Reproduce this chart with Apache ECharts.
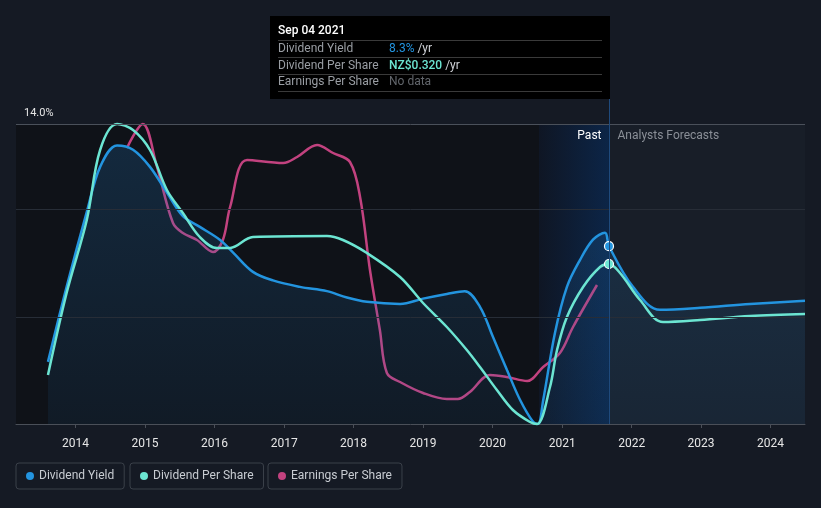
<!DOCTYPE html>
<html><head><meta charset="utf-8">
<script src="https://cdn.jsdelivr.net/npm/echarts@6/dist/echarts.min.js"></script>
<style>html,body{margin:0;padding:0;background:#151a24;}#c{width:821px;height:508px;}</style>
</head><body><div id="c"></div>
<script>
// ---- Data ----
const yieldDates = ['2013-08-09','2013-11-15','2014-03-01','2014-05-10','2014-08-07','2014-10-30','2015-01-27','2015-04-26','2015-07-19','2015-10-16','2016-01-29','2016-04-08','2016-07-21','2016-11-03','2017-03-25','2017-08-14','2017-11-27','2018-03-12','2018-09-02','2019-01-01','2019-05-06','2019-08-08','2019-10-27','2020-01-03','2020-03-17','2020-05-25','2020-08-01','2020-08-27','2020-09-23','2020-11-24','2021-01-26','2021-04-05','2021-06-12','2021-08-14','2021-09-04','2022-01-08','2022-05-30','2022-12-27','2023-09-15','2024-06-30'];
const yieldValues = [2.9,6.4,9.9,12.0,13.0,12.8,12.0,10.8,9.7,9.2,8.6,8.0,7.1,6.7,6.4,6.2,5.9,5.7,5.6,5.85,6.07,6.2,5.47,4.07,2.52,1.12,0.1,0.0,1.1,4.25,6.4,7.66,8.6,8.93,8.3,6.4,5.33,5.42,5.6,5.75];

const dpsDates = ['2013-08-09','2013-11-15','2014-03-01','2014-05-10','2014-08-07','2014-10-30','2015-01-27','2015-04-26','2015-07-19','2015-10-16','2016-01-14','2016-03-23','2016-07-21','2017-08-14','2017-11-06','2018-03-12','2018-09-02','2019-01-01','2019-05-06','2019-08-19','2019-10-27','2020-01-24','2020-04-17','2020-07-16','2020-08-22','2020-10-29','2020-12-05','2021-01-26','2021-04-21','2021-07-19','2021-09-04','2021-11-01','2022-02-14','2022-06-15','2022-12-27','2023-09-15','2024-06-30'];
const dpsValues = [0.098,0.262,0.408,0.548,0.600,0.588,0.548,0.468,0.422,0.374,0.352,0.352,0.374,0.376,0.368,0.342,0.294,0.242,0.194,0.148,0.114,0.068,0.028,0.004,0.0,0.074,0.148,0.214,0.274,0.314,0.320,0.302,0.248,0.204,0.208,0.216,0.220];

const epsDates = ['2014-09-28','2014-12-20','2015-03-05','2015-05-28','2015-07-19','2015-10-01','2015-12-24','2016-02-14','2016-03-23','2016-06-20','2016-12-27','2017-03-10','2017-06-23','2017-09-15','2017-12-13','2018-02-04','2018-03-28','2018-05-19','2018-06-25','2018-09-02','2019-01-01','2019-05-06','2019-07-03','2019-09-04','2019-12-18','2020-03-17','2020-07-01','2020-09-23','2020-12-20','2021-02-27','2021-07-03'];
const epsValues = [0.276,0.300,0.257,0.201,0.191,0.184,0.172,0.184,0.217,0.264,0.261,0.267,0.279,0.271,0.262,0.227,0.154,0.094,0.051,0.042,0.031,0.025,0.025,0.032,0.049,0.047,0.043,0.057,0.071,0.097,0.139];

const yTickLabels = {0: '0%', 14: '14.0%'};
const yGridValues = [5, 10];
const yTopValue = 14;
const tipDate = '2021-09-04';
const tipYield = 8.3;
const tipDps = 0.320;
const pastStart = '2020-09-01';
const axisMin = '2013-02-22';
const axisMax = '2024-06-30';

// ---- Chart ----
const P = s => echarts.number.parseDate(s).getTime();
const BLUE = '#2394df', CYAN = '#6ce5d2', MAG = '#c2427f';
const chart = echarts.init(document.getElementById('c'), null, {renderer: 'canvas'});
const FONT = 'Roboto, "Noto Sans", sans-serif';
const YEAR = 365.25 * 864e5;
const SMOOTH = 0.35;

const legendBase = {
  top: 463, orient: 'horizontal', icon: 'circle', itemWidth: 8, itemHeight: 8,
  padding: [7, 10, 7, 10], borderColor: '#3a4049', borderWidth: 1, borderRadius: 3,
  selectedMode: false, itemGap: 8,
  textStyle: {color: '#c8ccd2', fontSize: 12, fontFamily: FONT}
};

const option = {
  backgroundColor: '#151a24',
  animation: false,
  grid: {left: 16, right: 16, top: 124, bottom: 84, containLabel: false},
  legend: [
    Object.assign({}, legendBase, {left: 16, data: ['Dividend Yield']}),
    Object.assign({}, legendBase, {left: 130, data: ['Dividend Per Share']}),
    Object.assign({}, legendBase, {left: 268, data: ['Earnings Per Share']})
  ],
  xAxis: {
    type: 'time', min: P(axisMin), max: P(axisMax),
    minInterval: YEAR * 0.98, maxInterval: YEAR * 1.02,
    axisLine: {show: true, lineStyle: {color: '#4a4f58', width: 1}},
    axisTick: {show: true, length: 4, lineStyle: {color: '#4a4f58'}},
    splitLine: {show: false},
    axisLabel: {
      formatter: '{yyyy}', color: '#e6e6e6', fontSize: 12, fontFamily: FONT, margin: 14,
      showMinLabel: false, showMaxLabel: false, hideOverlap: false
    }
  },
  yAxis: [
    {
      type: 'value', min: 0, max: 14, interval: 5,
      axisLine: {show: false}, axisTick: {show: false},
      splitLine: {show: false},
      axisLabel: {
        inside: true, color: '#e6e6e6', fontSize: 11, fontFamily: FONT,
        verticalAlign: 'bottom', margin: 8, padding: [0, 0, 5, 0],
        formatter: v => (yTickLabels[v] !== undefined ? yTickLabels[v] : '')
      }
    },
    {type: 'value', min: 0, max: 0.6, show: false, splitLine: {show: false}},
    {type: 'value', min: 0, max: 0.3, show: false, splitLine: {show: false}}
  ],
  series: [
    {
      name: 'bg', type: 'line', z: 0, silent: true, symbol: 'none',
      data: [[P(axisMin), 0]], lineStyle: {opacity: 0},
      markArea: {
        silent: true,
        data: [
          [{xAxis: P(axisMin), itemStyle: {color: '#0f1218'}}, {xAxis: P(pastStart)}],
          [{xAxis: P(pastStart), itemStyle: {color: new echarts.graphic.LinearGradient(0, 0, 1, 0, [
            {offset: 0, color: '#0f1624'}, {offset: 1, color: '#0c2547'}])}}, {xAxis: P(tipDate)}],
          [{xAxis: P(tipDate), itemStyle: {color: '#181e28'}}, {xAxis: P(axisMax)}]
        ]
      },
      markLine: {
        silent: true, symbol: 'none', label: {show: false},
        data: yGridValues.map(v => ({yAxis: v, lineStyle: {color: '#272d37', type: 'solid', width: 1}}))
          .concat([{yAxis: yTopValue, lineStyle: {color: '#4a505a', type: 'solid', width: 1}}])
      }
    },
    {
      name: 'Dividend Yield', type: 'line', z: 3, yAxisIndex: 0,
      smooth: SMOOTH, symbol: 'none',
      data: yieldDates.map((d, i) => [P(d), yieldValues[i]]),
      itemStyle: {color: BLUE},
      lineStyle: {color: BLUE, width: 2.5},
      areaStyle: {color: new echarts.graphic.LinearGradient(0, 0, 0, 1, [
        {offset: 0, color: 'rgba(35,120,190,0.32)'}, {offset: 1, color: 'rgba(35,120,190,0.12)'}])},
      markPoint: {
        silent: true, label: {show: false},
        data: [{coord: [P(tipDate), tipYield], symbol: 'circle', symbolSize: 9,
          itemStyle: {color: BLUE, borderColor: '#ffffff', borderWidth: 1.2}}]
      }
    },
    {
      name: 'Dividend Per Share', type: 'line', z: 4, yAxisIndex: 1,
      smooth: SMOOTH, symbol: 'none', clip: false,
      data: dpsDates.map((d, i) => [P(d), dpsValues[i]]),
      itemStyle: {color: CYAN},
      lineStyle: {color: CYAN, width: 2.5},
      markPoint: {
        silent: true, label: {show: false},
        data: [{coord: [P(tipDate), tipDps], symbol: 'circle', symbolSize: 9,
          itemStyle: {color: CYAN, borderColor: '#ffffff', borderWidth: 1.2}}]
      }
    },
    {
      name: 'Earnings Per Share', type: 'line', z: 2, yAxisIndex: 2,
      smooth: SMOOTH, symbol: 'none', clip: false,
      data: epsDates.map((d, i) => [P(d), epsValues[i]]),
      itemStyle: {color: MAG},
      lineStyle: {color: MAG, width: 2.5}
    }
  ]
};
chart.setOption(option);

// ---- Tooltip-like overlay & Past / Forecast labels ----
const xTip = Math.round(chart.convertToPixel({xAxisIndex: 0}, P(tipDate))) + 0.5;
const yBottom = chart.convertToPixel({yAxisIndex: 0}, 0);
const yTop = chart.convertToPixel({yAxisIndex: 0}, yTopValue);
const boxL = 270, boxT = 16, boxW = xTip - boxL + 0.5, boxH = 83;
const rowY = [31, 48.5, 65.5, 82];
const sepY = [40.5, 57.5, 74.5, 91.5];
const g = [
  {type: 'line', z: 50, shape: {x1: xTip, y1: boxT + boxH, x2: xTip, y2: yBottom}, style: {stroke: '#1f4a7c', lineWidth: 1}},
  {type: 'rect', z: 60, shape: {x: boxL, y: boxT, width: boxW, height: boxH}, style: {fill: '#000000'}},
  {type: 'text', z: 61, x: 278, y: rowY[0], style: {text: 'Sep 04 2021', fill: '#ffffff', font: '500 12px ' + FONT, verticalAlign: 'middle'}},
  {type: 'text', z: 61, x: 278, y: rowY[1], style: {text: 'Dividend Yield', fill: '#9a9ea4', font: '12px ' + FONT, verticalAlign: 'middle'}},
  {type: 'text', z: 61, x: 278, y: rowY[2], style: {text: 'Dividend Per Share', fill: '#9a9ea4', font: '12px ' + FONT, verticalAlign: 'middle'}},
  {type: 'text', z: 61, x: 278, y: rowY[3], style: {text: 'Earnings Per Share', fill: '#9a9ea4', font: '12px ' + FONT, verticalAlign: 'middle'}},
  {type: 'text', z: 61, x: 389, y: rowY[1], style: {text: '{v|' + tipYield.toFixed(1) + '%}{u| /yr}', verticalAlign: 'middle',
    rich: {v: {fill: BLUE, font: '12px ' + FONT}, u: {fill: '#d0d3d8', font: '12px ' + FONT}}}},
  {type: 'text', z: 61, x: 389, y: rowY[2], style: {text: '{v|NZ$' + tipDps.toFixed(3) + '}{u| /yr}', verticalAlign: 'middle',
    rich: {v: {fill: CYAN, font: '500 12px ' + FONT}, u: {fill: '#d0d3d8', font: '12px ' + FONT}}}},
  {type: 'text', z: 61, x: 389, y: rowY[3], style: {text: 'No data', fill: '#62666c', font: '12px ' + FONT, verticalAlign: 'middle'}},
  {type: 'text', z: 61, x: xTip - 8, y: yTop + 12, style: {text: 'Past', fill: '#ffffff', font: '12px ' + FONT, align: 'right', verticalAlign: 'middle'}},
  {type: 'text', z: 61, x: xTip + 8, y: yTop + 12, style: {text: 'Analysts Forecasts', fill: '#8a8f97', font: '12px ' + FONT, align: 'left', verticalAlign: 'middle'}}
];
sepY.forEach(y => g.push({type: 'line', z: 61, shape: {x1: 278, y1: y, x2: 602, y2: y}, style: {stroke: '#3a3a3a', lineWidth: 1}}));
chart.setOption({graphic: g});
</script>
</body></html>
